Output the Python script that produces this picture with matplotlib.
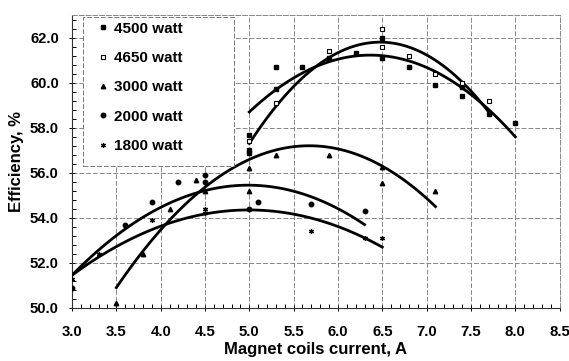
import numpy as np
import matplotlib
matplotlib.use('Agg')
import matplotlib.pyplot as plt
from matplotlib.ticker import MultipleLocator
from matplotlib.patches import Rectangle

plt.rcParams['font.family'] = ['Liberation Sans', 'DejaVu Sans']
plt.rcParams['font.weight'] = 'bold'

# measured points
x_4500 = [5.0, 5.0, 5.0, 5.3, 5.3, 5.6, 5.9, 6.2, 6.5, 6.5, 6.8, 7.1, 7.4, 7.4, 7.7, 8.0]
y_4500 = [57.7, 57.0, 56.9, 60.7, 59.7, 60.7, 61.1, 61.3, 62.0, 61.1, 60.7, 59.9, 59.8, 59.4, 58.6, 58.2]
x_4650 = [5.0, 5.3, 5.9, 6.5, 6.5, 6.8, 7.1, 7.4, 7.7]
y_4650 = [57.4, 59.1, 61.4, 62.4, 61.6, 61.2, 60.4, 60.0, 59.2]
x_3000 = [3.5, 3.8, 4.1, 4.4, 4.5, 5.0, 5.0, 5.3, 5.9, 6.5, 6.5, 7.1]
y_3000 = [50.2, 52.4, 54.4, 55.7, 55.2, 56.2, 55.2, 56.8, 56.8, 56.25, 55.55, 55.2]
x_2000 = [3.0, 3.6, 3.9, 4.2, 4.5, 4.5, 5.0, 5.1, 5.7, 6.3]
y_2000 = [50.9, 53.7, 54.7, 55.6, 55.9, 55.6, 54.4, 54.7, 54.6, 54.3]
x_1800 = [3.0, 3.3, 3.9, 4.5, 4.5, 5.7, 6.3, 6.5]
y_1800 = [51.3, 52.4, 53.9, 54.4, 54.2, 53.4, 53.1, 53.1]

# points read on the trend curves (start, middle, end)
fit_x_4500 = [5.0, 6.5, 8.0]
fit_y_4500 = [58.7, 61.2, 57.6]
fit_x_4650 = [5.0, 6.5, 7.7]
fit_y_4650 = [57.3, 61.8, 58.7]
fit_x_3000 = [3.5, 5.7, 7.1]
fit_y_3000 = [50.9, 57.2, 54.5]
fit_x_2000 = [3.0, 5.0, 6.3]
fit_y_2000 = [51.45, 55.45, 53.7]
fit_x_1800 = [3.0, 5.0, 6.5]
fit_y_1800 = [51.45, 54.35, 52.7]

labels = ['4500 watt', '4650 watt', '3000 watt', '2000 watt', '1800 watt']

fig = plt.figure(figsize=(5.69, 3.61), dpi=100)
ax = fig.add_axes([0.1265, 0.147, 0.857, 0.811])

series = [
    (x_4500, y_4500, dict(marker='s', mfc='black', mec='black', ms=3.0)),
    (x_4650, y_4650, dict(marker='s', mfc='white', mec='black', ms=3.0, mew=0.8)),
    (x_3000, y_3000, dict(marker='^', mfc='black', mec='black', ms=3.2)),
    (x_2000, y_2000, dict(marker='o', mfc='black', mec='black', ms=3.2)),
    (x_1800, y_1800, dict(marker=(6, 2, 0), mfc='black', mec='black', ms=3.6, mew=0.9)),
]
for (xs, ys, st), lab in zip(series, labels):
    ax.plot(xs, ys, linestyle='none', label=lab, zorder=4, **st)

fits = [(fit_x_4500, fit_y_4500), (fit_x_4650, fit_y_4650), (fit_x_3000, fit_y_3000),
        (fit_x_2000, fit_y_2000), (fit_x_1800, fit_y_1800)]
for fx, fy in fits:
    c = np.polyfit(fx, fy, 2)
    xx = np.linspace(min(fx), max(fx), 100)
    ax.plot(xx, np.polyval(c, xx), color='black', lw=2, zorder=3)

ax.set_xlim(3.0, 8.5)
ax.set_ylim(50.0, 63.0)
ax.xaxis.set_major_locator(MultipleLocator(0.5))
ax.xaxis.set_minor_locator(MultipleLocator(0.1))
ax.yaxis.set_major_locator(MultipleLocator(2.0))
ax.yaxis.set_minor_locator(MultipleLocator(0.4))
ax.xaxis.set_major_formatter(plt.FormatStrFormatter('%.1f'))
ax.yaxis.set_major_formatter(plt.FormatStrFormatter('%.1f'))
ax.grid(True, which='major', color='#888888', linestyle=(0, (5, 2)), lw=0.7)

for s in ['top', 'right']:
    ax.spines[s].set_color('#888888')
    ax.spines[s].set_linestyle((0, (5, 2)))
    ax.spines[s].set_linewidth(0.7)
for s in ['left', 'bottom']:
    ax.spines[s].set_color('#333333')
    ax.spines[s].set_linewidth(0.8)

ax.tick_params(axis='both', which='major', labelsize=10.7, direction='inout', length=5, width=0.7, pad=7)
ax.tick_params(axis='both', which='minor', direction='in', length=3, width=0.7)
ax.tick_params(axis='x', which='major', pad=10)

ax.set_xlabel('Magnet coils current, A', fontsize=12, fontweight='bold', labelpad=2)
ax.set_ylabel('Efficiency, %', fontsize=12, fontweight='bold', labelpad=4)

# legend box (dashed frame) and entries
box = Rectangle((0.0225, 0.485), 0.31, 0.508, transform=ax.transAxes, facecolor='white',
                edgecolor='#777777', lw=0.7, linestyle=(0, (5, 2)), zorder=5)
ax.add_patch(box)
leg = ax.legend(loc='upper left', bbox_to_anchor=(0.0385, 0.993), frameon=False,
                prop={'weight': 'bold', 'size': 11}, handlelength=1.0, handletextpad=0.25,
                labelspacing=1.0, borderpad=0.3, borderaxespad=0, markerscale=1.0)
leg.set_zorder(6)

fig.savefig('out.png', dpi=100)
